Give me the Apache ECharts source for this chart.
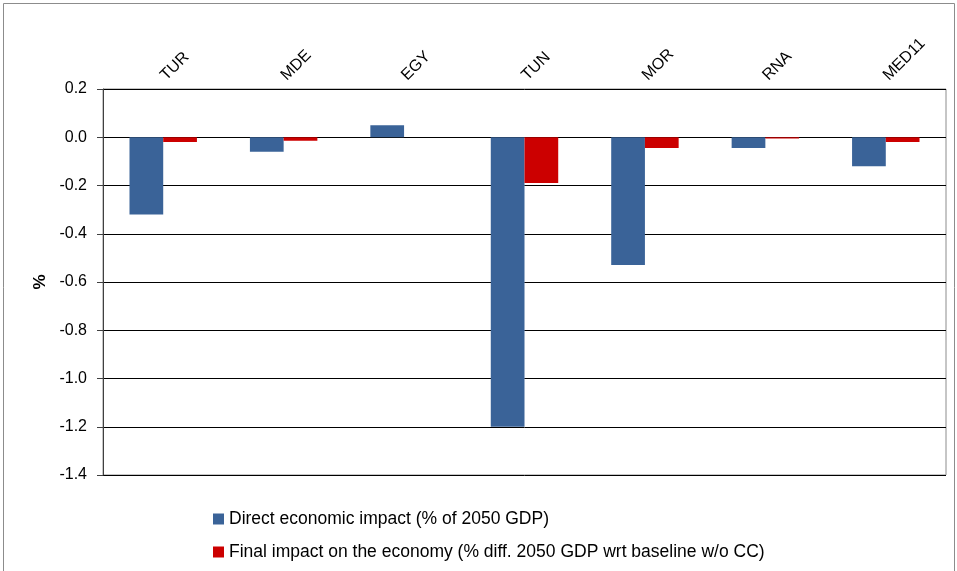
<!DOCTYPE html>
<html>
<head>
<meta charset="utf-8">
<script src="https://cdn.jsdelivr.net/npm/echarts@6/dist/echarts.min.js"></script>
<style>
  html, body { margin: 0; padding: 0; background: #fff; }
  #chart { width: 957px; height: 571px; }
</style>
</head>
<body>
<div id="chart"></div>
<script>
// regions
var categories = ['TUR', 'MDE', 'EGY', 'TUN', 'MOR', 'RNA', 'MED11']
// Direct economic impact (% of 2050 GDP)
var directImpact = [-0.32, -0.06, 0.05, -1.2, -0.53, -0.045, -0.12]
// Final impact on the economy (% diff. 2050 GDP wrt baseline w/o CC)
var finalImpact = [-0.02, -0.015, 0, -0.19, -0.045, -0.005, -0.02]
var seriesNames = [
  'Direct economic impact (% of 2050 GDP)',
  'Final impact on the economy (% diff. 2050 GDP wrt baseline w/o CC)'
]

var chart = echarts.init(document.getElementById('chart'))
var font = 'Liberation Sans, Arial, sans-serif'

chart.setOption({
  animation: false,
  color: ['#3A6398', '#CC0000'],
  graphic: [
    {
      type: 'rect',
      shape: { x: 3.5, y: 3.5, width: 951, height: 600 },
      style: { fill: 'none', stroke: '#8c8c8c', lineWidth: 1 }
    }
  ],
  grid: {
    left: 103,
    right: 11,
    top: 89,
    bottom: 96,
    show: true,
    borderColor: '#8c8c8c',
    borderWidth: 1
  },
  legend: {
    orient: 'vertical',
    left: 208,
    top: 505,
    itemWidth: 11,
    itemHeight: 11,
    itemGap: 15,
    icon: 'rect',
    textStyle: { fontFamily: font, fontSize: 17.5, color: '#000' },
    data: seriesNames
  },
  xAxis: {
    type: 'category',
    position: 'top',
    data: categories,
    axisLine: { show: false },
    axisTick: { show: false },
    axisLabel: {
      rotate: 45,
      margin: 11,
      fontFamily: font,
      fontSize: 16,
      color: '#000'
    }
  },
  yAxis: {
    type: 'value',
    min: -1.4,
    max: 0.2,
    interval: 0.2,
    name: '%',
    nameLocation: 'middle',
    nameGap: 54,
    nameTextStyle: { fontFamily: font, fontSize: 17, fontWeight: 'bold', color: '#000' },
    axisLine: { show: true, lineStyle: { color: '#404040' } },
    axisTick: { show: true, length: 6, lineStyle: { color: '#404040' } },
    splitLine: { show: true, lineStyle: { color: '#000', width: 1 } },
    axisLabel: {
      fontFamily: font,
      fontSize: 16,
      color: '#000',
      margin: 16,
      formatter: function (v) { return v.toFixed(1) }
    }
  },
  series: [
    {
      name: seriesNames[0],
      type: 'bar',
      data: directImpact,
      barWidth: '28%',
      barGap: '0%'
    },
    {
      name: seriesNames[1],
      type: 'bar',
      data: finalImpact,
      barWidth: '28%',
      barGap: '0%'
    }
  ]
})
</script>
</body>
</html>
